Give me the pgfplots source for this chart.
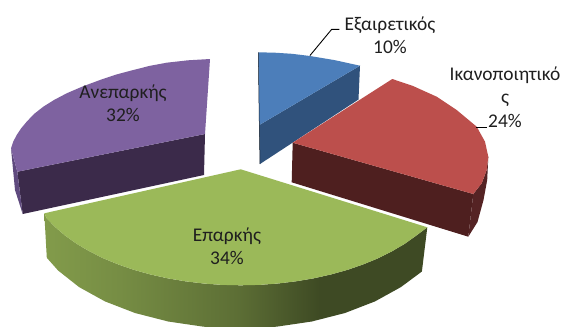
\documentclass[border=0pt]{standalone}
\usepackage{pgfplots}
\pgfplotsset{compat=1.18}
\usepackage{fontspec}
\setmainfont{Carlito}
\definecolor{bT}{HTML}{4C7EBA}\definecolor{bS}{HTML}{30527C}
\definecolor{rT}{HTML}{BC4F4C}\definecolor{rS}{HTML}{4E1F1F}\definecolor{rR}{HTML}{552324}
\definecolor{pT}{HTML}{7E62A0}\definecolor{pS}{HTML}{3B2A4A}\definecolor{pR}{HTML}{5F4A7E}
\definecolor{gT}{HTML}{9BB959}
\pgfdeclarehorizontalshading{greenside}{100bp}{
 color(0bp)=(gT!84!black); color(25bp)=(gT!84!black); color(35bp)=(gT!76!black); color(50bp)=(gT!60!black);
 color(61bp)=(gT!40!black); color(100bp)=(gT!40!black)}
\begin{document}
\begin{tikzpicture}
\begin{axis}[hide axis,scale only axis,width=563pt,height=327pt,xmin=0,xmax=563,ymin=0,ymax=327,y dir=reverse,clip=true,
  every axis plot/.append style={no markers,draw=none}]
\addplot[fill=white] coordinates {(0,0)(563,0)(563,327)(0,327)} -- cycle;
% blue
\addplot[fill=bS] coordinates {(259.3,125)(360,65.7)(358.5,99.5)(260,164)} -- cycle;
\addplot[fill=bT] coordinates {(259.3,125)(258.3,52.3)(275,52.7)(292,53.8)(310,56)(335,60.2)(360,65.7)} -- cycle;
\addplot[draw=black!70!bS,line width=0.5pt] coordinates {(258.3,52.3)(259.3,125)(260,164)};
% red
\addplot[fill=rS] coordinates {(292.7,142.7)(473.3,194)(468.3,236.7)(291.7,182.3)} -- cycle;
\addplot[fill=rR] coordinates {(473.3,194)(481.7,183.3)(486.7,170)(488.3,156.7)(487.2,180)(483.5,200)(477.5,222)(468.3,236.7)} -- cycle;
\addplot[fill=rT] coordinates {(292.7,142.7)(392.3,79)(413,86)(436.7,96.7)(456.7,110)(476.7,126.7)(485,141.7)(488.3,156.7)(486.7,170)(481.7,183.3)(473.3,194)} -- cycle;
% purple
\addplot[fill=pS] coordinates {(17.3,171.7)(205,134)(204,175)(22.7,214)} -- cycle;
\addplot[fill=pR] coordinates {(11,148.3)(17.3,171.7)(22.7,214)(15,190)} -- cycle;
\addplot[fill=pT] coordinates {(210,59)(188,60.3)(166.7,62.7)(150,65.8)(133.3,70)(116,74.6)(100,80)(83,86.3)(66.7,93.3)(54,100)(43.3,106.7)(34,114)(26.7,121.7)(21,128.5)(16.7,135)(13.3,141.5)(11,148.3)(17.3,171.7)(205,134)} -- cycle;
% green
\addplot[shading=greenside,draw=none] coordinates {(427.3,227.3)(416,235.8)(404.6,243.9)(392,251.3)(378.3,258.2)(363.5,264.3)(347.7,269.8)(331.2,274.4)(313.9,278.3)(296.1,281.3)(277.9,283.5)(259.3,284.9)(240.7,285.3)(222.1,284.9)(203.5,283.5)(185.3,281.3)(167.5,278.3)(150.2,274.4)(133.7,269.8)(117.9,264.3)(103.1,258.2)(89.4,251.3)(76.8,243.9)(65.4,235.8)(55.4,227.3)(46.8,218.4)(44.3,213.3)(46.8,257.8)(58.1,270.5)(79.1,287.1)(105,301.4)(135,313)(168.2,321.5)(203.5,326.7)(240,328.5)(276.5,326.7)(311.8,321.5)(345,313)(375,301.4)(400.9,287.1)(421.9,271.5)} -- cycle;
\addplot[fill=gT] coordinates {(240.7,169.3)(427.3,227.3)(416,235.8)(404.6,243.9)(392,251.3)(378.3,258.2)(363.5,264.3)(347.7,269.8)(331.2,274.4)(313.9,278.3)(296.1,281.3)(277.9,283.5)(259.3,284.9)(240.7,285.3)(222.1,284.9)(203.5,283.5)(185.3,281.3)(167.5,278.3)(150.2,274.4)(133.7,269.8)(117.9,264.3)(103.1,258.2)(89.4,251.3)(76.8,243.9)(65.4,235.8)(55.4,227.3)(46.8,218.4)(44.3,213.3)} -- cycle;
% leader lines
\addplot[draw=black,line width=0.9pt] coordinates {(310,55.5)(331.7,29.3)(339.3,29.3)};
\addplot[draw=black,line width=0.9pt] coordinates {(476,127)(486.7,127)};
% labels
\def\fs{\fontsize{19.4}{23.5}\selectfont}
\node[align=center,font=\fs,text=black!88] at (axis cs:390,35) {Εξαιρετικός\\10\%};
\node[align=center,font=\fs,text=black!88] at (axis cs:505,97) {Ικανοποιητικό\\ς\\24\%};
\node[align=center,font=\fs,text=black!88] at (axis cs:123,103) {Ανεπαρκής\\32\%};
\node[align=center,font=\fs,text=black!88] at (axis cs:227,246) {Επαρκής\\34\%};
\end{axis}
\end{tikzpicture}
\end{document}
